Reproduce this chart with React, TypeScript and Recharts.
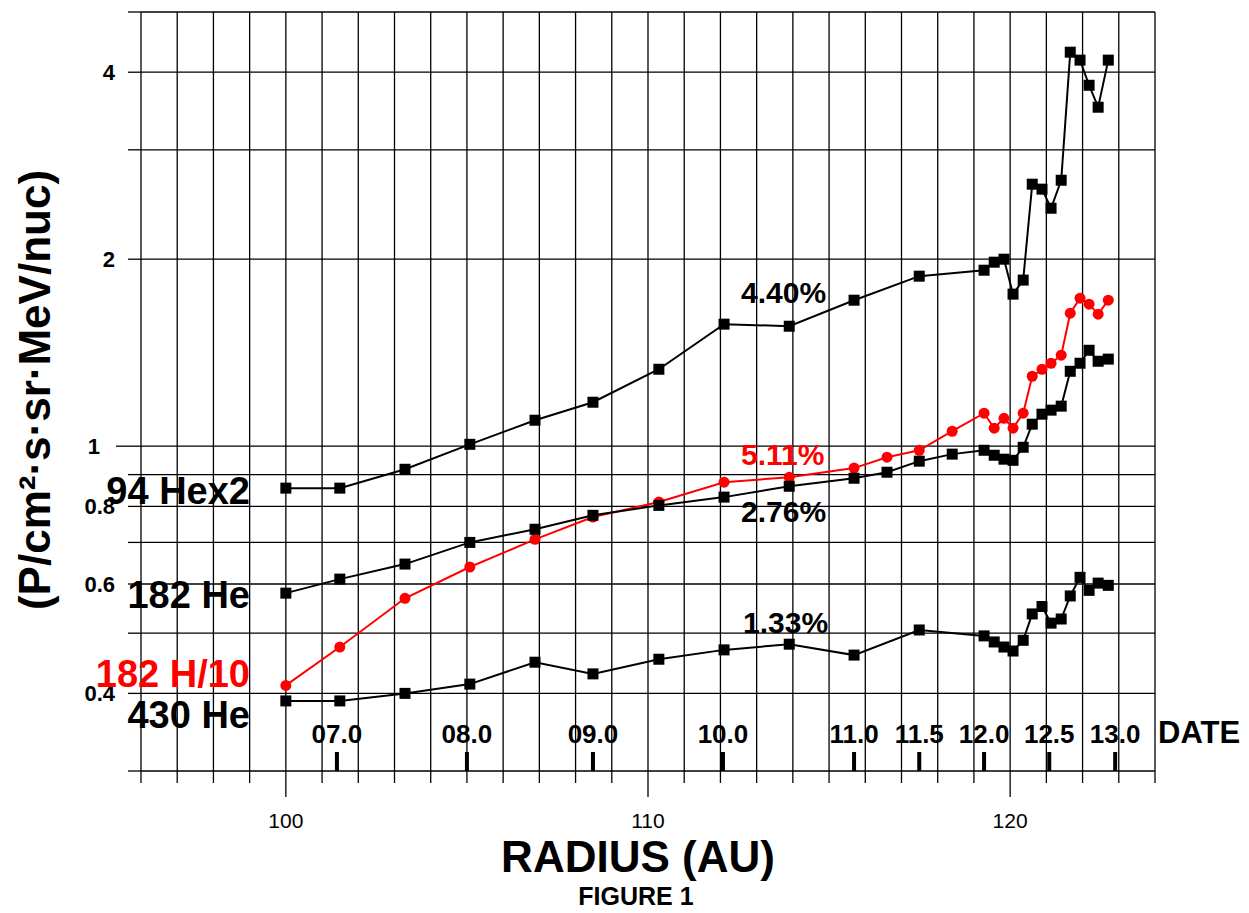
import React from "react";
import { ComposedChart, Line, Scatter, XAxis, YAxis, CartesianGrid } from "recharts";

// radius (AU) of each measurement
const radiusShort = [
  100.0, 101.49, 103.29, 105.08, 106.88, 108.48, 110.3, 112.1, 113.9, 115.69,
  117.49, 119.28, 119.56, 119.83, 120.08, 120.36, 120.61, 120.88, 121.13,
  121.41, 121.66, 121.93, 122.18, 122.43, 122.71,
];
const radiusLong = [
  100.0, 101.49, 103.29, 105.08, 106.88, 108.48, 110.3, 112.1, 113.9, 115.69,
  116.6, 117.49, 118.4, 119.28, 119.56, 119.83, 120.08, 120.36, 120.61, 120.88,
  121.13, 121.41, 121.66, 121.93, 122.18, 122.43, 122.71,
];

const hex2Flux = [
  0.856, 0.856, 0.918, 1.007, 1.101, 1.177, 1.33, 1.572, 1.56, 1.718, 1.878,
  1.92, 1.978, 2.0, 1.757, 1.851, 2.641, 2.593, 2.416, 2.68, 4.308, 4.183,
  3.811, 3.513, 4.183,
];
const he182Flux = [
  0.58, 0.611, 0.646, 0.7, 0.735, 0.774, 0.803, 0.828, 0.862, 0.888, 0.908,
  0.946, 0.971, 0.985, 0.967, 0.953, 0.949, 0.996, 1.085, 1.126, 1.143, 1.16,
  1.32, 1.36, 1.427, 1.37, 1.381,
];
const h182Flux = [
  0.412, 0.475, 0.569, 0.639, 0.708, 0.769, 0.813, 0.875, 0.891, 0.922, 0.96,
  0.985, 1.057, 1.13, 1.069, 1.109, 1.069, 1.13, 1.296, 1.33, 1.36, 1.401,
  1.637, 1.731, 1.693, 1.631, 1.718,
];
const he430Flux = [
  0.389, 0.389, 0.4, 0.414, 0.449, 0.43, 0.454, 0.47, 0.48, 0.461, 0.506,
  0.495, 0.484, 0.475, 0.468, 0.487, 0.537, 0.552, 0.519, 0.527, 0.574, 0.615,
  0.586, 0.602, 0.597,
];

// date marks along the radius axis
const dateLabels = ["07.0", "08.0", "09.0", "10.0", "11.0", "11.5", "12.0", "12.5", "13.0"];
const dateRadius = [101.41, 105.0, 108.48, 112.07, 115.69, 117.49, 119.28, 121.08, 122.9];

const radiusTicks = [
  96, 97, 98, 99, 100, 101, 102, 103, 104, 105, 106, 107, 108, 109, 110, 111,
  112, 113, 114, 115, 116, 117, 118, 119, 120, 121, 122, 123, 124,
];
const radiusLabels = [100, 110, 120];
const fluxTicks = [0.3, 0.4, 0.5, 0.6, 0.7, 0.8, 0.9, 1, 2, 3, 4, 5];
const fluxLabels = [0.4, 0.6, 0.8, 1, 2, 4];

const toRows = (r: number[], v: number[]) => r.map((x, i) => ({ r: x, v: v[i] }));
const hex2Data = toRows(radiusShort, hex2Flux);
const he182Data = toRows(radiusLong, he182Flux);
const h182Data = toRows(radiusLong, h182Flux);
const he430Data = toRows(radiusShort, he430Flux);
const dateData = dateRadius.map((r, i) => ({ r, v: 0.3, label: dateLabels[i] }));

const FONT = '"Liberation Sans", Arial, Helvetica, sans-serif';
const PLOT_LEFT = 141;
const PLOT_BOTTOM = 771;
const RED = "#ff0000";

const Square = (props: any) => {
  const { cx, cy, key } = props;
  if (cx == null || cy == null) return <g key={key} />;
  return <rect key={key} x={cx - 5.5} y={cy - 5.5} width={11} height={11} fill="#000" />;
};

const RedDot = (props: any) => {
  const { cx, cy, key } = props;
  if (cx == null || cy == null) return <g key={key} />;
  return <circle key={key} cx={cx} cy={cy} r={5.5} fill={RED} />;
};

const RadiusTick = (props: any) => {
  const { x, payload } = props;
  const major = radiusLabels.includes(payload.value);
  return (
    <g>
      <line x1={x} x2={x} y1={PLOT_BOTTOM} y2={PLOT_BOTTOM + (major ? 26 : 12)} stroke="#000" strokeWidth={1.3} />
      {major && (
        <text x={x} y={828} textAnchor="middle" fontSize={21} fontFamily={FONT} fill="#000">
          {payload.value}
        </text>
      )}
    </g>
  );
};

const FluxTick = (props: any) => {
  const { y, payload } = props;
  const v = payload.value;
  const long = v === 1;
  const show = fluxLabels.includes(v);
  return (
    <g>
      <line x1={long ? 116 : 128} x2={PLOT_LEFT} y1={y} y2={y} stroke="#000" strokeWidth={1.3} />
      {show && (
        <text x={long ? 100 : 115} y={y} dy="0.36em" textAnchor="end" fontSize={22} fontWeight="bold" fontFamily={FONT} fill="#000">
          {String(v)}
        </text>
      )}
    </g>
  );
};

const DateMark = (props: any) => {
  const { cx, cy, payload } = props;
  return (
    <g>
      <line x1={cx} x2={cx} y1={cy - 19} y2={cy + 2} stroke="#000" strokeWidth={4} />
      <text x={cx} y={cy - 28} textAnchor="middle" fontSize={26} fontWeight="bold" fontFamily={FONT} fill="#000">
        {payload.label}
      </text>
    </g>
  );
};

export default function App() {
  return (
    <div style={{ position: "absolute", left: 0, top: 0, width: 1249, height: 913, background: "#fff" }}>
      <ComposedChart width={1249} height={913} margin={{ top: 12, right: 94, bottom: 82, left: 81 }}>
        <CartesianGrid stroke="#000" strokeWidth={1.3} />
        <XAxis
          dataKey="r"
          type="number"
          domain={[96, 124]}
          ticks={radiusTicks}
          interval={0}
          height={60}
          axisLine={false}
          tickLine={false}
          tick={<RadiusTick />}
          allowDataOverflow
        />
        <YAxis
          dataKey="v"
          type="number"
          scale="log"
          domain={[0.3, 5]}
          ticks={fluxTicks}
          interval={0}
          width={60}
          axisLine={false}
          tickLine={false}
          tick={<FluxTick />}
          allowDataOverflow
        />
        <Line data={h182Data} dataKey="v" stroke={RED} strokeWidth={2} dot={RedDot} activeDot={false} isAnimationActive={false} />
        <Line data={hex2Data} dataKey="v" stroke="#000" strokeWidth={2} dot={Square} activeDot={false} isAnimationActive={false} />
        <Line data={he182Data} dataKey="v" stroke="#000" strokeWidth={2} dot={Square} activeDot={false} isAnimationActive={false} />
        <Line data={he430Data} dataKey="v" stroke="#000" strokeWidth={2} dot={Square} activeDot={false} isAnimationActive={false} />
        <Scatter data={dateData} dataKey="v" shape={<DateMark />} isAnimationActive={false} />
      </ComposedChart>
      <svg width={1249} height={913} style={{ position: "absolute", left: 0, top: 0, pointerEvents: "none" }} fontFamily={FONT} fontWeight="bold">
        <text transform="translate(50,390) rotate(-90)" textAnchor="middle" fontSize={44} fill="#000">
          (P/cm²·s·sr·MeV/nuc)
        </text>
        <text x={250} y={504} textAnchor="end" fontSize={38} fill="#000">94 Hex2</text>
        <text x={250} y={608} textAnchor="end" fontSize={38} fill="#000">182 He</text>
        <text x={250} y={687} textAnchor="end" fontSize={38} fill={RED}>182 H/10</text>
        <text x={250} y={728} textAnchor="end" fontSize={38} fill="#000">430 He</text>
        <text x={741} y={303} fontSize={30} fill="#000">4.40%</text>
        <text x={741} y={465} fontSize={30} fill={RED}>5.11%</text>
        <text x={741} y={522} fontSize={30} fill="#000">2.76%</text>
        <text x={743} y={633} fontSize={30} fill="#000">1.33%</text>
        <text x={1158} y={743} fontSize={31} fill="#000">DATE</text>
        <text x={638} y={872} textAnchor="middle" fontSize={44} fill="#000">RADIUS (AU)</text>
        <text x={636} y={905} textAnchor="middle" fontSize={25} fill="#000">FIGURE 1</text>
      </svg>
    </div>
  );
}
